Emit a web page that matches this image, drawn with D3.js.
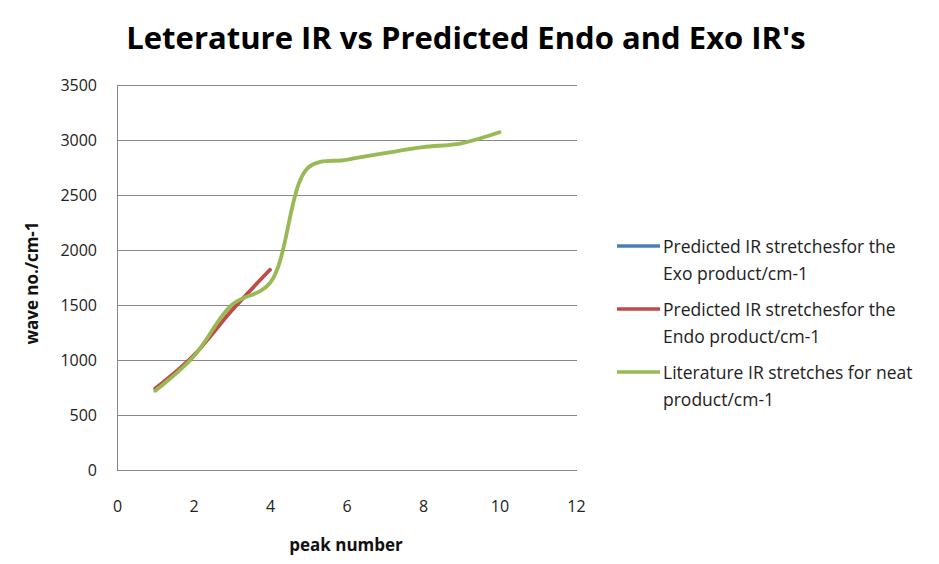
<!DOCTYPE html>
<html><head><meta charset="utf-8">
<script src="https://cdn.jsdelivr.net/npm/d3@7"></script>
<style>body{margin:0;background:#fff}svg{display:block}</style>
</head><body>
<svg id="c" width="939" height="564"></svg>
<script>
const title = "Leterature IR vs Predicted Endo and Exo IR's";
const xTicks = [0, 2, 4, 6, 8, 10, 12];
const yTicks = [0, 500, 1000, 1500, 2000, 2500, 3000, 3500];
const exoX = [];
const exoY = [];
const endoX = [1, 2, 3, 4];
const endoY = [740, 1040, 1450, 1820];
const litX = [1, 2, 3, 4, 5, 6, 7, 8, 9, 10];
const litY = [720, 1030, 1500, 1700, 2750, 2820, 2880, 2935, 2970, 3070];
const seriesNames = [
  ["Predicted IR stretchesfor the", "Exo product/cm-1"],
  ["Predicted IR stretchesfor the", "Endo product/cm-1"],
  ["Literature IR stretches for neat", "product/cm-1"]
];
const colors = ["#4A7EBB", "#BE4B48", "#98B954"];

const svg = d3.select("#c");
const font = "'Open Sans', sans-serif";
const x = d3.scaleLinear().domain([0, 12]).range([117, 576]);
const y = d3.scaleLinear().domain([0, 3500]).range([470, 85]);

// gridlines
svg.append("g").selectAll("line").data(yTicks).join("line")
  .attr("x1", 117).attr("x2", 577)
  .attr("y1", d => Math.round(y(d)) + 0.5).attr("y2", d => Math.round(y(d)) + 0.5)
  .attr("stroke", "#878787").attr("stroke-width", 1);
// y axis line
svg.append("line").attr("x1", 117.5).attr("x2", 117.5).attr("y1", 85).attr("y2", 471)
  .attr("stroke", "#878787");

// y tick labels
const yAxis = d3.axisLeft(y).tickValues(yTicks).tickFormat(d3.format("d")).tickSize(0).tickPadding(20);
const yg = svg.append("g").attr("transform", "translate(117,0)").call(yAxis);
yg.select(".domain").remove();
yg.selectAll("text").attr("font-family", font).attr("font-size", 16).attr("fill", "#222").attr("dy", "0.35em");

const xAxis = d3.axisBottom(x).tickValues(xTicks).tickFormat(d3.format("d")).tickSize(0).tickPadding(26);
const xg = svg.append("g").attr("transform", "translate(0,486)").call(xAxis);
xg.select(".domain").remove();
xg.selectAll("text").attr("font-family", font).attr("font-size", 16).attr("fill", "#222").attr("dy", "0");

// lines
const line = d3.line().x(d => x(d[0])).y(d => y(d[1])).curve(d3.curveCatmullRom.alpha(0.5));
const data = [d3.zip(exoX, exoY), d3.zip(endoX, endoY), d3.zip(litX, litY)];
data.forEach((s, i) => {
  if (s.length) svg.append("path").attr("d", line(s)).attr("fill", "none")
    .attr("stroke", colors[i]).attr("stroke-width", 3.8).attr("stroke-linecap", "round").attr("stroke-linejoin", "round");
});

// title
const t = svg.append("text").attr("x", 466).attr("y", 49).attr("text-anchor", "middle")
  .attr("font-family", font).attr("font-weight", "bold").attr("font-size", 30).attr("fill", "#000").text(title);
const tw = t.node().getComputedTextLength();
t.attr("font-size", 30 * 680 / tw);

// axis titles
svg.append("text").attr("x", 346).attr("y", 551).attr("text-anchor", "middle")
  .attr("font-family", font).attr("font-weight", "bold").attr("font-size", 17).attr("fill", "#111").text("peak number");
svg.append("text").attr("transform", "translate(38,283) rotate(-90)").attr("text-anchor", "middle")
  .attr("font-family", font).attr("font-weight", "bold").attr("font-size", 17).attr("fill", "#111").text("wave no./cm-1");

// legend
const legY = [246, 309, 372];
seriesNames.forEach((nm, i) => {
  const g = svg.append("g");
  g.append("line").attr("x1", 617).attr("x2", 660).attr("y1", legY[i]).attr("y2", legY[i])
    .attr("stroke", colors[i]).attr("stroke-width", 3.5);
  nm.forEach((ln, j) => {
    g.append("text").attr("x", 663).attr("y", legY[i] + 7 + j * 27).attr("font-family", font)
      .attr("font-size", 17.5).attr("fill", "#222").text(ln);
  });
});
</script>
</body></html>
